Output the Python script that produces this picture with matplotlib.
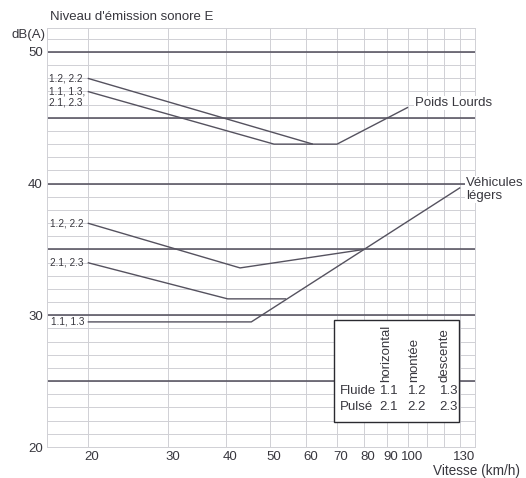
import matplotlib
matplotlib.use("Agg")
import matplotlib.pyplot as plt
import matplotlib.transforms as mtransforms
from matplotlib.patches import Rectangle
from matplotlib.ticker import FixedLocator, NullFormatter, FixedFormatter

plt.rcParams['font.family'] = ['Liberation Sans', 'DejaVu Sans']

# ---- data ----
pl_12_x = [20, 62]
pl_12_y = [48, 43]
pl_11_x = [20, 51, 70, 100]
pl_11_y = [47, 43, 43, 45.8]

vl_12_x = [20, 43, 80]
vl_12_y = [37, 33.6, 35]
vl_21_x = [20, 40.4, 54.2]
vl_21_y = [34, 31.25, 31.25]
vl_11_x = [20, 45.5, 130]
vl_11_y = [29.5, 29.5, 39.7]

x_tick_vals = [20, 30, 40, 50, 60, 70, 80, 90, 100, 130]
x_grid_vals = [20, 30, 40, 50, 60, 70, 80, 90, 100, 110, 120, 130, 140]
y_tick_vals = [20, 30, 40, 50]
y_thick_vals = [25, 30, 35, 40, 45, 50]

table_cols = ["horizontal", "montée", "descente"]
table_rows = ["Fluide", "Pulsé"]
table_vals = [["1.1", "1.2", "1.3"], ["2.1", "2.2", "2.3"]]

# ---- figure ----
W, H = 526, 478
fig = plt.figure(figsize=(W / 100, H / 100), dpi=100)
ax_l, ax_r, ax_t, ax_b = 47, 475, 28, 447
ax = fig.add_axes([ax_l / W, 1 - ax_b / H, (ax_r - ax_l) / W, (ax_b - ax_t) / H])

ax.set_xscale('log')
ax.set_xlim(16.3, 140)
ax.set_ylim(20, 51.82)

line_col = '#55525f'
grid_col = '#d0d0d5'
text_col = '#38373e'

# ticks / labels
ax.xaxis.set_major_locator(FixedLocator(x_tick_vals))
ax.xaxis.set_major_formatter(FixedFormatter([str(v) for v in x_tick_vals]))
ax.xaxis.set_minor_locator(FixedLocator([]))
ax.set_yticks(y_tick_vals)
ax.yaxis.set_minor_locator(FixedLocator([]))
ax.tick_params(which='both', length=0, colors=text_col, labelsize=9.5)
ax.tick_params(axis='y', pad=3)
ax.tick_params(axis='x', pad=3)
for lab in ax.get_xticklabels():
    lab.set_transform(lab.get_transform() + mtransforms.ScaledTranslation(4 / 100, 0, fig.dpi_scale_trans))
for s in ax.spines.values():
    s.set_color(grid_col)
    s.set_linewidth(0.7)

# thin grid drawn explicitly
for v in x_grid_vals:
    ax.axvline(v, color=grid_col, linewidth=0.7, zorder=0)
for v in range(20, 52):
    ax.axhline(v, color=grid_col, linewidth=0.7, zorder=0)
for v in y_thick_vals:
    ax.axhline(v, color=line_col, linewidth=1.15, zorder=2)

# legend box
def axx(px):
    return (px - ax_l) / (ax_r - ax_l)

def axy(py):
    return (ax_b - py) / (ax_b - ax_t)

ax.add_patch(Rectangle((axx(334), axy(422)), axx(459) - axx(334), axy(320) - axy(422),
                       transform=ax.transAxes, facecolor='white', edgecolor='#2a2a30',
                       linewidth=1.0, zorder=3))

# data lines
for xs, ys in [(pl_12_x, pl_12_y), (pl_11_x, pl_11_y),
               (vl_12_x, vl_12_y), (vl_21_x, vl_21_y), (vl_11_x, vl_11_y)]:
    ax.plot(xs, ys, color=line_col, linewidth=1.0, zorder=4, solid_capstyle='butt')

# small curve labels
blend = mtransforms.blended_transform_factory(ax.transAxes, ax.transData)
small = dict(fontsize=7.2, color=text_col, ha='left', va='center', transform=blend, zorder=5)
ax.text(axx(49), pl_12_y[0], "1.2, 2.2", **small)
ax.text(axx(49), pl_11_y[0], "1.1, 1.3,", **small)
ax.text(axx(49), pl_11_y[0] - 0.85, "2.1, 2.3", **small)
ax.text(axx(50), vl_12_y[0], "1.2, 2.2", **small)
ax.text(axx(50), vl_21_y[0], "2.1, 2.3", **small)
ax.text(axx(51), vl_11_y[0], "1.1, 1.3", **small)

# figure-level texts (pixel placement)
def ft(px, py, s, **kw):
    fig.text(px / W, 1 - py / H, s, color=text_col, **kw)

ft(50, 17, "Niveau d'émission sonore E", fontsize=9.5, ha='left', va='center')
ft(45, 35, "dB(A)", fontsize=9.5, ha='right', va='center')
ft(520, 471, "Vitesse (km/h)", fontsize=9.8, ha='right', va='center')
fig.text(415 / W, 1 - 103 / H, "Poids Lourds", color=text_col, fontsize=9.5, ha='left', va='center',
         bbox=dict(facecolor='white', edgecolor='none', pad=1), zorder=6)
fig.text(466 / W, 1 - 183 / H, "Véhicules", color=text_col, fontsize=9.5, ha='left', va='center',
         bbox=dict(facecolor='white', edgecolor='none', pad=1), zorder=6)
fig.text(466 / W, 1 - 196 / H, "légers", color=text_col, fontsize=9.5, ha='left', va='center',
         bbox=dict(facecolor='white', edgecolor='none', pad=1), zorder=6)

# table texts
col_x = [386, 414, 445]
val_x = [389, 417, 449]
for cx, c in zip(col_x, table_cols):
    ax.text(axx(cx), axy(382), c, rotation=90, ha='center', va='bottom', fontsize=9.5,
            color=text_col, transform=ax.transAxes, zorder=5)
for ry, r, vals in zip([391, 407], table_rows, table_vals):
    ax.text(axx(340), axy(ry), r, ha='left', va='center', fontsize=9.5, color=text_col,
            transform=ax.transAxes, zorder=5)
    for vx, v in zip(val_x, vals):
        ax.text(axx(vx), axy(ry), v, ha='center', va='center', fontsize=9.5, color=text_col,
                transform=ax.transAxes, zorder=5)

fig.savefig("out.png", dpi=100, facecolor='white')
